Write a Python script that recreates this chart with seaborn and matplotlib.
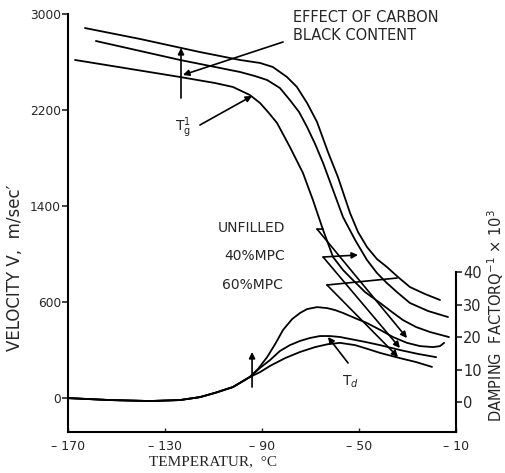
import matplotlib
matplotlib.use("Agg")
import matplotlib.pyplot as plt
import seaborn as sns
import pandas as pd

# ---- data ----
# velocity curves (temperature °C, velocity m/s)
t_v60 = [-163.0, -140.3, -115.6, -99.1, -90.8, -85.5, -79.7, -75.6, -71.4, -67.3, -62.8, -58.7,
         -53.7, -50.4, -46.7, -42.6, -38.5, -33.9, -29.0, -22.8, -16.6]
v_v60 = [2883, 2792, 2683, 2617, 2592, 2558, 2475, 2392, 2258, 2100, 1850, 1642,
         1342, 1183, 1058, 958, 892, 808, 725, 667, 617]

t_v40 = [-158.5, -123.8, -99.1, -92.9, -87.9, -82.6, -78.5, -74.7, -71.4, -68.1, -64.8, -60.7,
         -56.6, -51.6, -46.7, -42.6, -38.5, -33.9, -29.0, -21.5, -13.3]
v_v40 = [2775, 2617, 2517, 2483, 2450, 2383, 2283, 2183, 2058, 1917, 1758, 1533,
         1308, 1117, 950, 842, 758, 675, 592, 525, 475]

t_vun = [-167.1, -123.8, -109.4, -102.0, -95.0, -90.8, -87.5, -83.8, -78.5, -73.1, -69.0, -64.8,
         -60.7, -56.6, -52.5, -47.5, -41.3, -36.4, -31.9, -26.5, -20.7, -12.9]
v_vun = [2617, 2475, 2425, 2392, 2325, 2258, 2183, 2092, 1892, 1675, 1450, 1200,
         975, 867, 783, 683, 592, 517, 450, 392, 350, 308]

# damping curves (temperature °C, Q^-1 x 10^3)
t_dun = [-170, -152.7, -136.2, -123.8, -115.6, -109.4, -102.0, -95.0, -91.6, -87.9, -84.6, -81.3,
         -77.6, -74.3, -71.4, -67.3, -63.2, -59.9, -56.6, -51.6, -46.7, -41.3, -36.0, -30.2,
         -24.8, -19.5, -16.6, -14.9]
d_dun = [1.2, 0.6, 0.3, 0.6, 1.5, 2.8, 4.6, 7.7, 10.2, 13.8, 17.8, 22.2,
         25.5, 27.4, 28.6, 29.2, 28.9, 28.3, 27.4, 25.8, 24.3, 22.2, 20.0, 18.2,
         17.2, 16.9, 17.2, 18.2]

t_d40 = [-170, -152.7, -136.2, -123.8, -115.6, -109.4, -102.0, -95.0, -90.8, -86.7, -82.6, -78.5,
         -74.3, -70.2, -66.1, -62.0, -57.8, -53.7, -47.5, -41.3, -33.1, -25.7, -18.2]
d_d40 = [1.2, 0.6, 0.3, 0.6, 1.5, 2.8, 4.6, 7.7, 10.5, 12.9, 15.7, 17.5,
         18.8, 19.7, 20.3, 20.3, 20.0, 19.4, 18.5, 17.5, 16.0, 14.8, 13.8]

t_d60 = [-170, -152.7, -136.2, -123.8, -115.6, -109.4, -102.0, -95.0, -90.8, -86.7, -80.5, -74.3,
         -68.1, -62.8, -57.8, -51.6, -46.3, -41.3, -33.1, -26.5, -19.9]
d_d60 = [1.2, 0.6, 0.3, 0.6, 1.5, 2.8, 4.6, 7.7, 9.2, 11.1, 13.5, 15.4,
         16.9, 17.8, 18.2, 17.5, 16.3, 15.1, 13.5, 12.3, 10.8]

x_ticks = [-170, -130, -90, -50, -10]
x_labels = ["\u2013 170", "\u2013 130", "\u2013 90", "\u2013 50", "\u2013 10"]
v_ticks = [-200, 600, 1400, 2200, 3000]
v_labels = ["0", "600", "1400", "2200", "3000"]
d_ticks = [0, 10, 20, 30, 40]
d_labels = ["0", "10", "20", "30", "40"]

series_labels = ["UNFILLED", "40%MPC", "60%MPC"]

# ---- style ----
sns.set_style("white")
plt.rcParams["font.family"] = ["DejaVu Sans"]

fig = plt.figure(figsize=(5.06, 4.73), dpi=100)
ax = fig.add_axes([68 / 506, 41 / 473, 388 / 506, 418 / 473])
ax2 = ax.twinx()

lc = "black"
lw = 1.3
for t, v in [(t_v60, v_v60), (t_v40, v_v40), (t_vun, v_vun)]:
    df = pd.DataFrame({"T": t, "V": v})
    sns.lineplot(data=df, x="T", y="V", ax=ax, color=lc, lw=lw, sort=False, estimator=None,
                 solid_joinstyle="round", solid_capstyle="round")
for t, d in [(t_dun, d_dun), (t_d40, d_d40), (t_d60, d_d60)]:
    df = pd.DataFrame({"T": t, "D": d})
    sns.lineplot(data=df, x="T", y="D", ax=ax2, color=lc, lw=lw, sort=False, estimator=None,
                 solid_joinstyle="round", solid_capstyle="round")

ax.set_xlim(-170, -10)
ax.set_ylim(-483, 3000)
ax2.set_ylim(-9.23, 119.4)

for a in (ax, ax2):
    a.spines["top"].set_visible(False)
    for s in a.spines.values():
        s.set_linewidth(1.5)
        s.set_color("black")
ax.spines["right"].set_visible(False)
ax2.spines["left"].set_visible(False)
ax2.spines["bottom"].set_visible(False)
ax2.spines["right"].set_bounds(-9.23, 40)

ax.set_xticks(x_ticks)
ax.set_xticklabels(x_labels, fontsize=9)
ax.set_yticks(v_ticks)
ax.set_yticklabels(v_labels, fontsize=8.8)
ax2.set_yticks(d_ticks)
ax2.set_yticklabels(d_labels, fontsize=10.5)
ax.tick_params(axis="y", direction="out", length=4, width=1.2, pad=1, left=True)
ax.tick_params(axis="x", direction="in", length=3, width=1.0, pad=6, bottom=True)
ax2.tick_params(axis="y", direction="out", length=4, width=1.2, pad=1, right=True)
ax.set_xlabel("")
ax.set_ylabel("")
ax2.set_ylabel("")
ax.grid(False)
ax2.grid(False)

fig.text(213 / 506, 1 - 462 / 473, "TEMPERATUR,  \u00b0C", family=["Liberation Serif", "DejaVu Serif"],
         fontsize=11, ha="center", va="center")
fig.text(15 / 506, 1 - 268 / 473, "VELOCITY V,  m/sec\u2032", fontsize=12, rotation=90,
         ha="center", va="center")
fig.text(496 / 506, 1 - 316 / 473, r"DAMPING  FACTORQ$^{-1}$ $\times$ 10$^{3}$", fontsize=10.5,
         rotation=90, ha="center", va="center")

arr = dict(arrowstyle="-|>", color="black", lw=1.2, mutation_scale=9, shrinkA=0, shrinkB=0)
line = dict(arrowstyle="-", color="black", lw=1.2, shrinkA=0, shrinkB=0)

# effect of carbon black content
ax.text(-77.2, 2900, "EFFECT OF CARBON\nBLACK CONTENT", fontsize=10.5, va="center", ha="left", linespacing=1.25)
ax.annotate("", xy=(-122.6, 2492), xytext=(-81.3, 2767), arrowprops=arr)
ax.annotate("", xy=(-123.4, 2717), xytext=(-123.4, 2300), arrowprops=arr)

# T'g
ax.text(-122.5, 2050, r"T$_{\mathrm{g}}^{1}$", fontsize=10, ha="center", va="center")
ax.annotate("", xy=(-94.1, 2317), xytext=(-115.6, 2075), arrowprops=arr)

# series labels
ax.text(-108.1, 1217, series_labels[0], fontsize=10, va="center", ha="left")
ax.text(-105.7, 983, series_labels[1], fontsize=10, va="center", ha="left")
ax.text(-106.5, 742, series_labels[2], fontsize=10, va="center", ha="left")

# pointers
ax.annotate("", xy=(-64.8, 1208), xytext=(-67.3, 1208), arrowprops=line)
ax.annotate("", xy=(-30.2, 300), xytext=(-67.3, 1208), arrowprops=arr)
ax.annotate("", xy=(-50.4, 992), xytext=(-64.8, 975), arrowprops=arr)
ax.annotate("", xy=(-33.1, 217), xytext=(-64.8, 975), arrowprops=arr)
ax.annotate("", xy=(-34.3, 800), xytext=(-63.2, 742), arrowprops=line)
ax.annotate("", xy=(-33.9, 142), xytext=(-63.2, 742), arrowprops=arr)

# damping arrow and Td
ax2.annotate("", xy=(-94.1, 15.4), xytext=(-94.1, 4.6), arrowprops=arr)
ax2.text(-53.7, 6.2, r"T$_d$", fontsize=10, ha="center", va="center")
ax2.annotate("", xy=(-62.8, 20.0), xytext=(-54.5, 12.0), arrowprops=arr)

fig.savefig("out.png", dpi=100)
